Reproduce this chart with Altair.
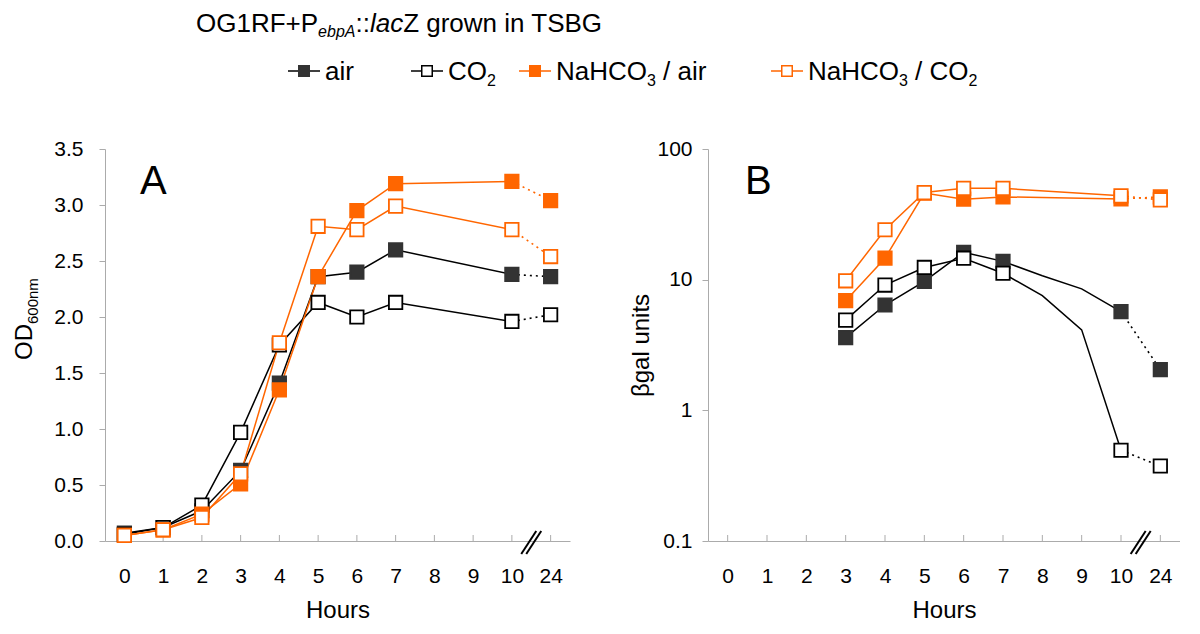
import altair as alt
import pandas as pd

FONT = "Liberation Sans"
ORANGE = "#FF6600"
DARK = "#333333"
GRAY = "#ababab"

# ---------------- data ----------------
HOURS = ["0", "1", "2", "3", "4", "5", "6", "7", "8", "9", "10", "24"]
SERIES = ["air", "CO2", "NaHCO3 / air", "NaHCO3 / CO2"]

# Panel A: OD600nm
a_hours = ["0", "1", "2", "3", "4", "5", "6", "7", "10", "24"]
a_air = [0.07, 0.12, 0.27, 0.63, 1.41, 2.36, 2.40, 2.60, 2.38, 2.36]
a_co2 = [0.06, 0.12, 0.32, 0.97, 1.75, 2.13, 2.00, 2.13, 1.96, 2.02]
a_nahco3_air = [0.05, 0.10, 0.24, 0.51, 1.35, 2.36, 2.95, 3.19, 3.21, 3.04]
a_nahco3_co2 = [0.05, 0.10, 0.21, 0.60, 1.77, 2.81, 2.78, 2.99, 2.78, 2.54]

# Panel B: beta-gal units (8 and 9 h are unmarked line vertices)
b_hours = ["3", "4", "5", "6", "7", "8", "9", "10", "24"]
b_air = [3.6, 6.4, 9.7, 16.2, 13.8, 10.7, 8.5, 5.7, 2.05]
b_co2 = [4.9, 9.1, 12.4, 14.6, 11.2, 7.55, 4.13, 0.495, 0.375]
b_nahco3_air = [6.9, 14.6, 46.0, 41.3, 43.0, None, None, 41.5, 43.0]
b_nahco3_co2 = [9.8, 24.1, 46.4, 50.0, 50.0, None, None, 43.8, 40.8]
b_unmarked = ["8", "9"]

LINE_COLORS = ["#000000", "#000000", ORANGE, ORANGE]
FILLS = [DARK, "#ffffff", ORANGE, "#ffffff"]
STROKES = [DARK, "#000000", ORANGE, ORANGE]


def long_df(hours, columns, unmarked=()):
    rows = []
    for s, vals in zip(SERIES, columns):
        for h, v in zip(hours, vals):
            if v is None:
                continue
            rows.append({"hour": h, "idx": HOURS.index(h), "value": v,
                         "series": s, "marked": h not in unmarked})
    return pd.DataFrame(rows)


df_a = long_df(a_hours, [a_air, a_co2, a_nahco3_air, a_nahco3_co2])
df_b = long_df(b_hours, [b_air, b_co2, b_nahco3_air, b_nahco3_co2], b_unmarked)
df_ticks = pd.DataFrame({"hour": HOURS})
DUMMY = pd.DataFrame({"k": [0]})

# ---------------- helpers ----------------
CW = {"O": 778, "G": 778, "1": 556, "R": 722, "F": 611, "+": 584, "P": 667,
      "e": 556, "b": 556, "p": 556, "A": 667, ":": 278, "l": 222, "a": 556,
      "c": 500, "Z": 611, " ": 278, "g": 556, "r": 333, "o": 556, "w": 722,
      "n": 556, "i": 222, "T": 611, "S": 667, "B": 667, "N": 722, "H": 722,
      "C": 722, "3": 556, "2": 556, "/": 278, "0": 556, "6": 556, "m": 833,
      "D": 722, "u": 556, "t": 278, "s": 500}


def tw(s, fs):
    return sum(CW.get(c, 556) for c in s) * fs / 1000.0


def txt(s, x, y, fs, style="normal", angle=0, align="left", baseline="alphabetic"):
    kw = dict(text=s, fontSize=fs, font=FONT, fontStyle=style, align=align,
              baseline=baseline, color="black")
    if angle:
        kw["angle"] = angle
    return alt.Chart(DUMMY).mark_text(**kw).encode(x=alt.value(x), y=alt.value(y))


def seg(x1, y1, x2, y2, color="black", width=1.6, dash=None):
    kw = dict(color=color, strokeWidth=width)
    if dash:
        kw["strokeDash"] = dash
    return alt.Chart(DUMMY).mark_rule(**kw).encode(
        x=alt.value(x1), y=alt.value(y1), x2=alt.value(x2), y2=alt.value(y2))


def sym(x, y, fill, stroke):
    return alt.Chart(DUMMY).mark_point(shape="square", filled=True, size=110,
                                       fill=fill, stroke=stroke, strokeWidth=1.5,
                                       opacity=1).encode(x=alt.value(x), y=alt.value(y))


def rich(pieces, x, y):
    """pieces: (text, size, style, dy) laid out left to right"""
    out = []
    for s, fs, style, dy in pieces:
        lead = 0
        while s.startswith(" "):
            lead += tw(" ", fs)
            s = s[1:]
        x += lead
        out.append(txt(s, x, y + dy, fs, style))
        x += tw(s, fs)
    return out


H = 392
WA = 465
WB = 472
OX, OY = 105, 149  # page position of panel A origin


def xenc(axis):
    return alt.X("hour:O", sort=HOURS,
                 scale=alt.Scale(domain=HOURS, type="point", padding=0.5),
                 axis=axis)


XAXIS = alt.Axis(title="Hours", ticks=False, tickSize=0, labelAngle=0,
                 labelFontSize=21, labelPadding=24, titleFontSize=24,
                 titleFontWeight="normal", titlePadding=12, domainColor=GRAY)


def panel(df, width, yenc, letter, letter_x):
    x = xenc(XAXIS)
    base = alt.Chart(df)
    color = alt.Color("series:N", scale=alt.Scale(domain=SERIES, range=LINE_COLORS), legend=None)
    solid = base.transform_filter(alt.datum.hour != "24").mark_line(strokeWidth=1.5).encode(
        x=x, y=yenc, color=color, order=alt.Order("idx:Q"))
    dotted = base.transform_filter((alt.datum.hour == "10") | (alt.datum.hour == "24")).mark_line(
        strokeWidth=1.6, strokeDash=[2, 4]).encode(x=x, y=yenc, color=color, order=alt.Order("idx:Q"))
    pts = base.transform_filter(alt.datum.marked).mark_point(
        shape="square", filled=True, size=180, strokeWidth=1.8, opacity=1).encode(
        x=x, y=yenc,
        fill=alt.Fill("series:N", scale=alt.Scale(domain=SERIES, range=FILLS), legend=None),
        stroke=alt.Stroke("series:N", scale=alt.Scale(domain=SERIES, range=STROKES), legend=None))
    ticks = alt.Chart(df_ticks).mark_rule(color=GRAY, strokeWidth=1).encode(
        x=x, y=alt.value(H - 6), y2=alt.value(H))
    step = width / 12.0
    cx = 11 * step
    brk = [seg(cx - 10 + o, H + 13, cx + 5 + o, H - 10, width=2) for o in (0, 5)]
    layers = [ticks, solid, dotted, pts, txt(letter, letter_x, 45, 40)] + brk
    return layers


# ---------------- panel A ----------------
y_a = alt.Y("value:Q", scale=alt.Scale(domain=[0, 3.5], nice=False, zero=False),
            axis=alt.Axis(values=[0, 0.5, 1.0, 1.5, 2.0, 2.5, 3.0, 3.5], format=".1f",
                          title=None, labelFontSize=21, labelPadding=16, tickSize=6,
                          tickColor=GRAY, domainColor=GRAY))
layers_a = panel(df_a, WA, y_a, "A", 35)

# y title OD600nm (with subscript)
layers_a.append(txt("OD", 32 - OX, 360 - OY, 24, angle=270))
layers_a.append(txt("600nm", 38 - OX, 360 - OY - tw("OD", 24), 15, angle=270))

# header: title
TY = 32 - OY
layers_a += rich([("OG1RF+P", 26, "normal", 0), ("ebpA", 16, "italic", 5),
                  ("::", 26, "normal", 0), ("lac", 26, "italic", 0),
                  ("Z", 26, "normal", 0), (" grown in TSBG", 26, "normal", 0)],
                 196 - OX, TY)

# header: legend
LY = 80 - OY
SY = 71 - OY
legend_items = [
    (304, "#000000", DARK, DARK, [("air", 26, "normal", 0)]),
    (427, "#000000", "#ffffff", "#000000", [("CO", 26, "normal", 0), ("2", 16, "normal", 6)]),
    (535, ORANGE, ORANGE, ORANGE, [("NaHCO", 26, "normal", 0), ("3", 16, "normal", 6),
                                   (" / air", 26, "normal", 0)]),
    (787, ORANGE, "#ffffff", ORANGE, [("NaHCO", 26, "normal", 0), ("3", 16, "normal", 6),
                                      (" / CO", 26, "normal", 0), ("2", 16, "normal", 6)]),
]
for cx, lc, fc, sc, pieces in legend_items:
    layers_a.append(seg(cx - 16 - OX, SY, cx + 16 - OX, SY, color=lc, width=1.5))
    layers_a.append(sym(cx - OX, SY, fc, sc))
    layers_a += rich(pieces, cx + 21 - OX, LY)

# invisible anchor fixing the top-left corner of the page content
layers_a.append(alt.Chart(DUMMY).mark_rect(color="white").encode(
    x=alt.value(8 - OX), x2=alt.value(9 - OX), y=alt.value(8 - OY), y2=alt.value(9 - OY)))

chart_a = alt.layer(*layers_a).properties(width=WA, height=H)

# ---------------- panel B ----------------
y_b = alt.Y("value:Q", scale=alt.Scale(type="log", domain=[0.1, 100], nice=False),
            axis=alt.Axis(values=[0.1, 1, 10, 100], format="~g", title="βgal units",
                          titleFontSize=24, titleFontWeight="normal", titlePadding=3,
                          labelFontSize=21, labelPadding=10, tickSize=6,
                          tickColor=GRAY, domainColor=GRAY))
layers_b = panel(df_b, WB, y_b, "B", 37)
chart_b = alt.layer(*layers_b).properties(width=WB, height=H)

chart = alt.hconcat(chart_a, chart_b, spacing=138, bounds="flush").properties(
    padding=0
).configure(font=FONT).configure_view(strokeWidth=0).configure_axis(
    labelFont=FONT, titleFont=FONT, labelColor="black", titleColor="black", grid=False
)

chart.save("out.html", embed_options={"renderer": "svg", "actions": False})
